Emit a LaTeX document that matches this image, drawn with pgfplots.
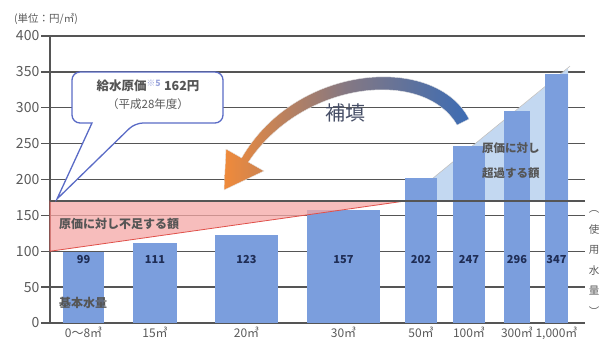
\documentclass[border=0pt]{standalone}
\usepackage{fontspec}
\setmainfont{Noto Sans CJK JP}
\usepackage{pgfplots}
\pgfplotsset{compat=1.18}
\definecolor{barc}{HTML}{7B9EDD}
\definecolor{ltblue}{HTML}{C3D8F1}
\definecolor{gridc}{HTML}{555555}
\definecolor{ticklab}{HTML}{5A5A5A}
\definecolor{redfill}{HTML}{F4A7A5}
\definecolor{redline}{HTML}{E0504A}
\definecolor{cb}{HTML}{5A6BC6}
\definecolor{navy}{HTML}{1F2D55}
\definecolor{arrowblue}{HTML}{3C6CB4}
\definecolor{arroworange}{HTML}{F08A3A}
\tikzset{vlab/.style={font=\fontsize{11}{11}\selectfont\bfseries, text=navy}}
\begin{document}
\begin{tikzpicture}
\useasboundingbox (-50pt,-15pt) rectangle (551pt,323pt);
\begin{axis}[
  at={(0pt,0pt)}, anchor=south west,
  scale only axis, width=535pt, height=287pt,
  xmin=50, xmax=585, ymin=0, ymax=400,
  axis x line*=bottom, axis y line*=left,
  axis line style={gridc, line width=1.3pt},
  ytick={0,50,...,400},
  ymajorgrids, grid style={gridc, line width=1.3pt},
  tick align=outside, major tick length=9pt,
  ytick style={gridc, line width=1.3pt},
  xtick style={draw=none},
  /pgf/number format/assume math mode=true,
  yticklabel style={font=\fontsize{14}{14}\selectfont, text=ticklab, inner sep=1.5pt},
  xtick={83.5,155,246.5,343.5,421,469,517,556.5},
  xticklabels={0～8㎥,15㎥,20㎥,30㎥,50㎥,100㎥,300㎥,{1,000㎥}},
  xticklabel style={font=\fontsize{12}{12}\selectfont, text=ticklab, inner sep=0pt, yshift=5pt},
  clip=false,
]
% surplus triangle
\addplot[fill=ltblue, draw=none] coordinates {(405,170) (568,355) (568,170) (405,170)};
\addplot[gray!50, line width=0.6pt] coordinates {(405,170) (570,358)};
% bars
\addplot[ybar, bar shift=0pt, bar width=41, fill=barc, draw=none] coordinates {(83.5,99)};
\addplot[ybar, bar shift=0pt, bar width=44, fill=barc, draw=none] coordinates {(155,111)};
\addplot[ybar, bar shift=0pt, bar width=63, fill=barc, draw=none] coordinates {(246.5,123)};
\addplot[ybar, bar shift=0pt, bar width=73, fill=barc, draw=none] coordinates {(343.5,157)};
\addplot[ybar, bar shift=0pt, bar width=32, fill=barc, draw=none] coordinates {(421,202)};
\addplot[ybar, bar shift=0pt, bar width=32, fill=barc, draw=none] coordinates {(469,247)};
\addplot[ybar, bar shift=0pt, bar width=26, fill=barc, draw=none] coordinates {(517,296)};
\addplot[ybar, bar shift=0pt, bar width=23, fill=barc, draw=none] coordinates {(556.5,347)};
% shortfall triangle
\addplot[fill=redfill, fill opacity=0.75, draw=redline, line width=0.8pt] coordinates {(50,100) (405,170) (50,170) (50,100)};
% cost line
\addplot[gridc, line width=1.3pt] coordinates {(50,170) (585,170)};
% value labels
\node[vlab] at (axis cs:83.5,88) {99};
\node[vlab] at (axis cs:155,88) {111};
\node[vlab] at (axis cs:246.5,88) {123};
\node[vlab] at (axis cs:343.5,88) {157};
\node[vlab] at (axis cs:421,88) {202};
\node[vlab] at (axis cs:469,88) {247};
\node[vlab] at (axis cs:517,88) {296};
\node[vlab] at (axis cs:556.5,88) {347};
\end{axis}
\begin{scope}[shift={(-50pt,323pt)}, x=1pt, y=-1pt]
% unit label
\node[anchor=west, font=\fontsize{10.5}{11}\selectfont, text=ticklab, inner sep=0pt] at (14,19) {(単位：円/㎥)};
% curved arrow
\shade[left color=arroworange, right color=arrowblue, middle color=arrowblue!60!arroworange, draw=white!80!gray, line width=0.4pt]
  (469,119) .. controls (436,54) and (297,62) .. (241.6,157.9)
  -- (226,149) -- (224,190) -- (264,171) -- (248.4,162.1)
  .. controls (303,80) and (424,68) .. (457,125) -- cycle;
\node[font=\fontsize{20}{20}\selectfont, text=gray!40!navy] at (345,113) {補填};
% callout
\draw[fill=white, draw=cb, line width=1.3pt, rounded corners=8pt]
  (72,72) -- (223,72) -- (223,123) -- (135,123) [sharp corners] -- (57,199) -- (92,123) [rounded corners=8pt] -- (72,123) -- cycle;
\node[font=\fontsize{12.5}{13}\selectfont\bfseries, text=gridc] at (148,86) {給水原価{\color{cb!60}\textsuperscript{※5}} 162円};
\node[font=\fontsize{11.5}{12}\selectfont, text=ticklab] at (148,104) {（平成28年度）};
% area labels
\node[anchor=west, font=\fontsize{12}{12}\selectfont\bfseries, text=gridc, inner sep=0pt] at (59,224) {原価に対し不足する額};
\node[anchor=west, font=\fontsize{12}{12}\selectfont\bfseries, text=gridc, inner sep=0pt] at (59,303) {基本水量};
\node[anchor=west, font=\fontsize{11.5}{12}\selectfont\bfseries, text=gridc, inner sep=0pt] at (482,148) {原価に対し};
\node[anchor=west, font=\fontsize{11.5}{12}\selectfont\bfseries, text=gridc, inner sep=0pt] at (482,173) {超過する額};
% vertical label
\node[align=center, font=\fontsize{10.5}{20.5}\selectfont, text=ticklab, inner sep=0pt] at (594,263) {︵\\使\\用\\水\\量\\︶};
\end{scope}
\end{tikzpicture}
\end{document}
